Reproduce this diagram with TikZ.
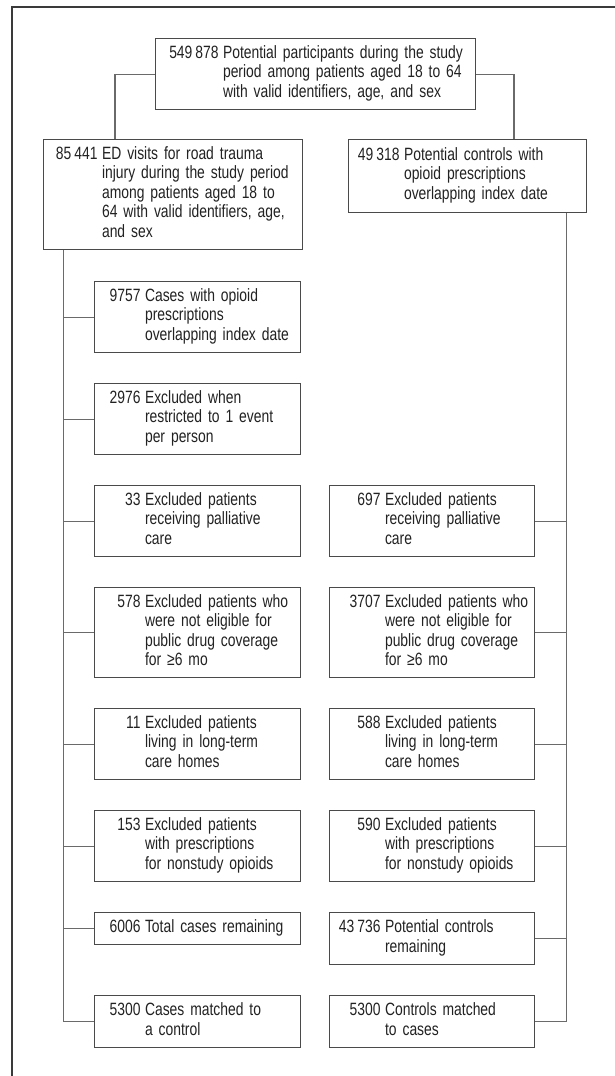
\documentclass[tikz,border=0pt]{standalone}
\usepackage{fontspec}
\setmainfont{Liberation Sans}[FakeStretch=0.78]
\definecolor{txt}{HTML}{222222}
\definecolor{boxline}{HTML}{4A4A4A}
\definecolor{connline}{HTML}{6A6A6A}
\definecolor{frameline}{HTML}{3A3A3A}
\newcommand{\nt}[3]{\begin{tabular}{@{}r@{\hspace{4.5pt}}l@{}}\makebox[#1][r]{#2} & #3\end{tabular}}
\tikzset{
  fbox/.style={draw=boxline, line width=1.1pt, text=txt, anchor=north west,
    inner xsep=6pt, inner ysep=0pt, align=left,
    font=\fontsize{17.8}{19.5}\selectfont},
  conn/.style={draw=connline, line width=1.1pt},
  frame/.style={draw=frameline, line width=1.4pt}
}
\begin{document}
\begin{tikzpicture}[x=1pt,y=-1pt]
\useasboundingbox (0,0) rectangle (615,1076);
\fill[white] (0,0) rectangle (615,1076);
\draw[frame] (12,1076) -- (12,7) -- (615,7);

% top
\node[fbox, text width=308pt, minimum height=71pt] (tp) at (155,38)
  {\nt{57pt}{549\,878}{Potential participants during the study\\ & period among patients aged 18 to 64\\ & with valid identifiers, age, and sex}};
\node[fbox, text width=247pt, minimum height=110pt] (ed) at (43,139)
  {\nt{48pt}{85\,441}{ED visits for road trauma\\ & injury during the study period\\ & among patients aged 18 to\\ & 64 with valid identifiers, age,\\ & and sex}};
\node[fbox, text width=226pt, minimum height=73pt] (pc) at (348,139)
  {\nt{45pt}{49\,318}{Potential controls with\\ & opioid prescriptions\\ & overlapping index date}};

% left column
\node[fbox, text width=194pt, minimum height=71pt] (c1) at (94,281)
  {\nt{40pt}{9757}{Cases with opioid\\ & prescriptions\\ & overlapping index date}};
\node[fbox, text width=194pt, minimum height=71pt] (c2) at (94,383)
  {\nt{40pt}{2976}{Excluded when\\ & restricted to 1 event\\ & per person}};
\node[fbox, text width=194pt, minimum height=71pt] (c3) at (94,485)
  {\nt{40pt}{33}{Excluded patients\\ & receiving palliative\\ & care}};
\node[fbox, text width=194pt, minimum height=90pt] (c4) at (94,587)
  {\nt{40pt}{578}{Excluded patients who\\ & were not eligible for\\ & public drug coverage\\ & for ≥6 mo}};
\node[fbox, text width=194pt, minimum height=71pt] (c5) at (94,708)
  {\nt{40pt}{11}{Excluded patients\\ & living in long-term\\ & care homes}};
\node[fbox, text width=194pt, minimum height=71pt] (c6) at (94,810)
  {\nt{40pt}{153}{Excluded patients\\ & with prescriptions\\ & for nonstudy opioids}};
\node[fbox, text width=194pt, minimum height=32pt] (c7) at (94,912)
  {\nt{40pt}{6006}{Total cases remaining}};
\node[fbox, text width=194pt, minimum height=52pt] (c8) at (94,995)
  {\nt{40pt}{5300}{Cases matched to\\ & a control}};

% right column
\node[fbox, text width=193pt, minimum height=71pt] (r3) at (329,485)
  {\nt{45pt}{697}{Excluded patients\\ & receiving palliative\\ & care}};
\node[fbox, text width=193pt, minimum height=90pt] (r4) at (329,587)
  {\nt{45pt}{3707}{Excluded patients who\\ & were not eligible for\\ & public drug coverage\\ & for ≥6 mo}};
\node[fbox, text width=193pt, minimum height=71pt] (r5) at (329,708)
  {\nt{45pt}{588}{Excluded patients\\ & living in long-term\\ & care homes}};
\node[fbox, text width=193pt, minimum height=71pt] (r6) at (329,810)
  {\nt{45pt}{590}{Excluded patients\\ & with prescriptions\\ & for nonstudy opioids}};
\node[fbox, text width=193pt, minimum height=52pt] (r7) at (329,912)
  {\nt{45pt}{43\,736}{Potential controls\\ & remaining}};
\node[fbox, text width=193pt, minimum height=52pt] (r8) at (329,995)
  {\nt{45pt}{5300}{Controls matched\\ & to cases}};

% connectors
\draw[conn] (tp.west) -| ([xshift=72pt]ed.north west);
\draw[conn] (tp.east) -| ([xshift=166pt]pc.north west);
\foreach \n in {c1,c2,c3,c4,c5,c6,c7,c8}
  \draw[conn] ([xshift=20.5pt]ed.south west) |- (\n.west);
\foreach \n in {r3,r4,r5,r6,r7,r8}
  \draw[conn] ([xshift=-21pt]pc.south east) |- (\n.east);
\end{tikzpicture}
\end{document}
